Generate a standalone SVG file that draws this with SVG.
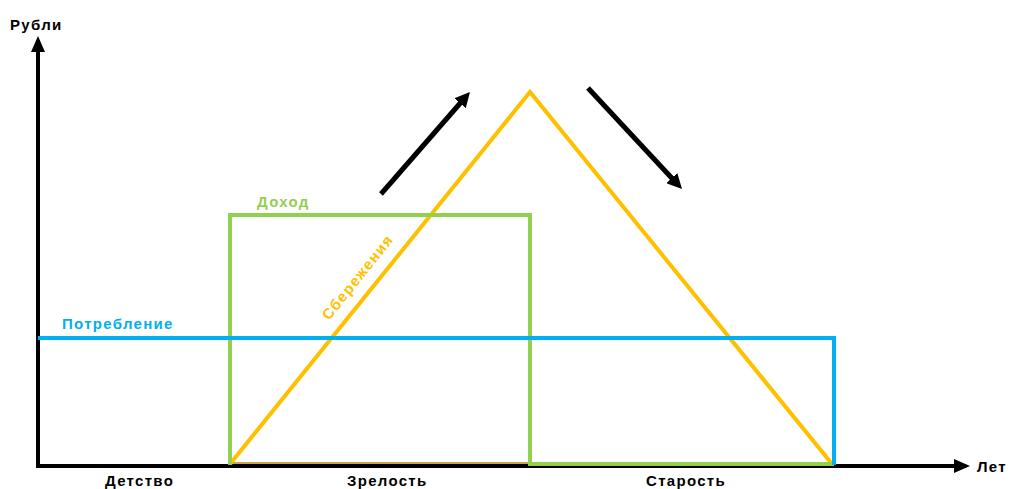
<svg xmlns="http://www.w3.org/2000/svg" width="1014" height="489" viewBox="0 0 1014 489">
<style>
text{font-family:"Liberation Sans",Arial,sans-serif;font-weight:bold;font-size:15px;letter-spacing:1.3px}
.ax{stroke:#000;stroke-width:4;fill:none}
.g{stroke:#92d050;stroke-width:4;fill:none}
.b{stroke:#00b0f0;stroke-width:4;fill:none}
.y{stroke:#ffc000;stroke-width:4;fill:none;stroke-linejoin:miter}
.ar{stroke:#000;stroke-width:5;fill:none}
</style>
<defs>
<marker id="ah" markerWidth="3" markerHeight="3" refX="1" refY="1.5" orient="auto" markerUnits="strokeWidth">
<path d="M0,0 L3,1.5 L0,3 Z" fill="#000"/>
</marker>
<marker id="axh" markerWidth="4" markerHeight="3.5" refX="3" refY="1.75" orient="auto" markerUnits="strokeWidth">
<path d="M0,0 L4,1.75 L0,3.5 Z" fill="#000"/>
</marker>
</defs>
<g id="connectors">
<line id="y-axis" class="ax" x1="38" y1="467" x2="38" y2="40" marker-end="url(#axh)"/>
<line id="x-axis" class="ax" x1="36" y1="466" x2="966" y2="466" marker-end="url(#axh)"/>
<line x1="230" y1="463" x2="532" y2="463" stroke="#b8860b" stroke-width="1.5"/>
<polyline id="savings" class="y" points="230,464 530,92 832,464"/>
<polyline id="income" class="g" points="230,465 230,215 530,215 530,464 834,464"/>
<polyline id="consumption" class="b" points="38,338 834,338 834,465"/>
<line id="up-arrow" class="ar" x1="381" y1="194" x2="463.4" y2="99.5" marker-end="url(#ah)"/>
<line id="down-arrow" class="ar" x1="588" y1="88" x2="675.2" y2="181.7" marker-end="url(#ah)"/>
</g>
<g id="labels">
<text x="10" y="30">Рубли</text>
<text x="977" y="472">Лет</text>
<text x="257" y="207" fill="#92d050">Доход</text>
<text x="62" y="329" fill="#00b0f0">Потребление</text>
<text x="0" y="0" fill="#ffc000" transform="translate(329,321) rotate(-51.2)">Сбережения</text>
<text x="105" y="486">Детство</text>
<text x="347" y="486">Зрелость</text>
<text x="646" y="486">Старость</text>
</g>
</svg>
